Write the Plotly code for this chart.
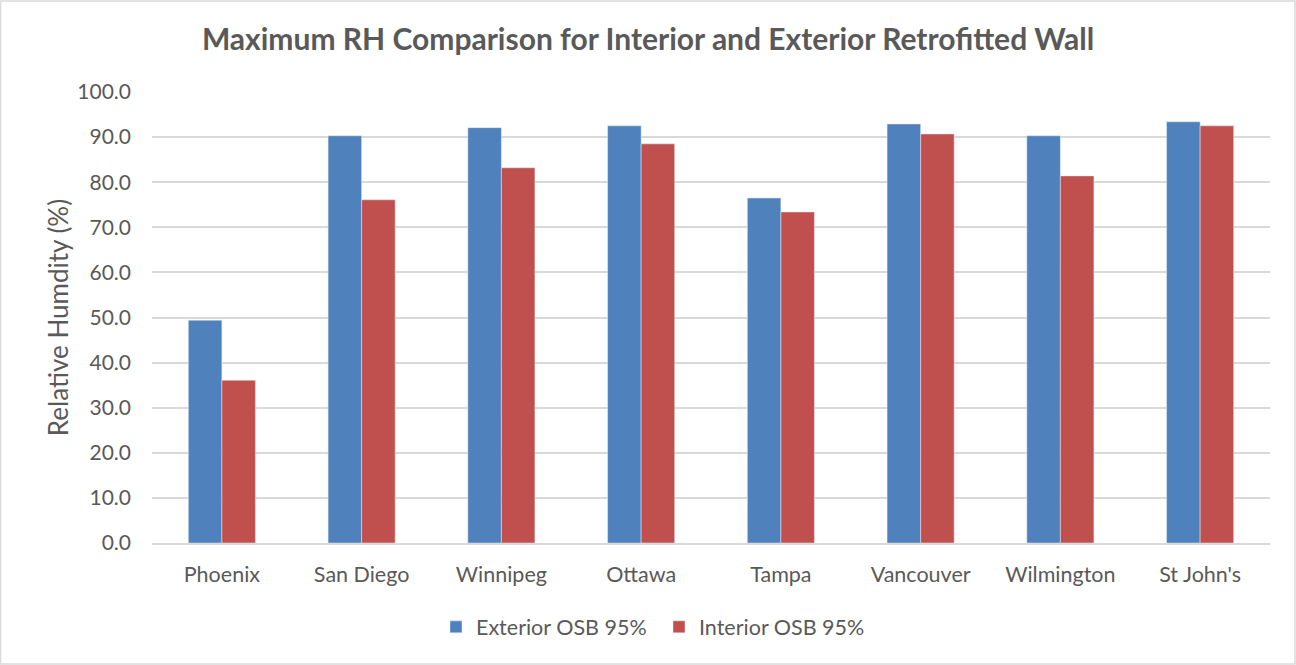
import plotly.graph_objects as go

cities = ["Phoenix", "San Diego", "Winnipeg", "Ottawa", "Tampa", "Vancouver", "Wilmington", "St John's"]
exterior = [49.4, 90.3, 92.1, 92.5, 76.5, 92.9, 90.3, 93.4]
interior = [36.1, 76.1, 83.2, 88.5, 73.4, 90.7, 81.4, 92.5]

font_family = "Lato, 'Open Sans', sans-serif"
grey = "#595959"

fig = go.Figure()
fig.add_trace(go.Bar(x=cities, y=exterior, name="Exterior OSB 95%", marker_color="#4F81BD",
                     legend="legend"))
fig.add_trace(go.Bar(x=cities, y=interior, name="Interior OSB 95%", marker_color="#C0504D",
                     legend="legend2"))

legend_common = dict(orientation="h", xanchor="left", y=-0.186, yanchor="middle",
                     font=dict(size=21.5, color=grey), itemwidth=30, bgcolor="rgba(0,0,0,0)")

fig.update_layout(
    width=1296, height=665,
    barmode="group", bargap=0.52, bargroupgap=0,
    plot_bgcolor="white", paper_bgcolor="white",
    margin=dict(l=152, r=26, t=92, b=122),
    font=dict(family=font_family, size=18, color=grey),
    title=dict(text="<b>Maximum RH Comparison for Interior and Exterior Retrofitted Wall</b>",
               x=0.5, xanchor="center", y=0.94, yanchor="middle",
               font=dict(size=30, color=grey, family=font_family)),
    legend=dict(x=(436 - 152) / 1118, **legend_common),
    legend2=dict(x=(659 - 152) / 1118, **legend_common),
    showlegend=True,
)
fig.update_yaxes(range=[0, 100], dtick=10, tickformat=".1f", showgrid=True,
                 gridcolor="#D9D9D9", gridwidth=1.5, zeroline=False, ticks="",
                 ticklabelstandoff=20,
                 title=dict(text="Relative Humdity (%)", font=dict(size=26, color=grey), standoff=1),
                 tickfont=dict(size=21, color=grey))
fig.update_xaxes(showline=True, linecolor="#D9D9D9", linewidth=1.5, ticks="",
                 ticklabelstandoff=11,
                 tickfont=dict(size=21.5, color=grey))
fig.add_shape(type="rect", xref="paper", yref="paper", x0=-151.5 / 1118, x1=1 + 25 / 1118,
              y0=-121 / 451, y1=1 + 91 / 451, line=dict(color="#D9D9D9", width=1.5))

fig.write_html("out.html", config={"displayModeBar": False},
               post_script="document.body.style.margin='0';")
